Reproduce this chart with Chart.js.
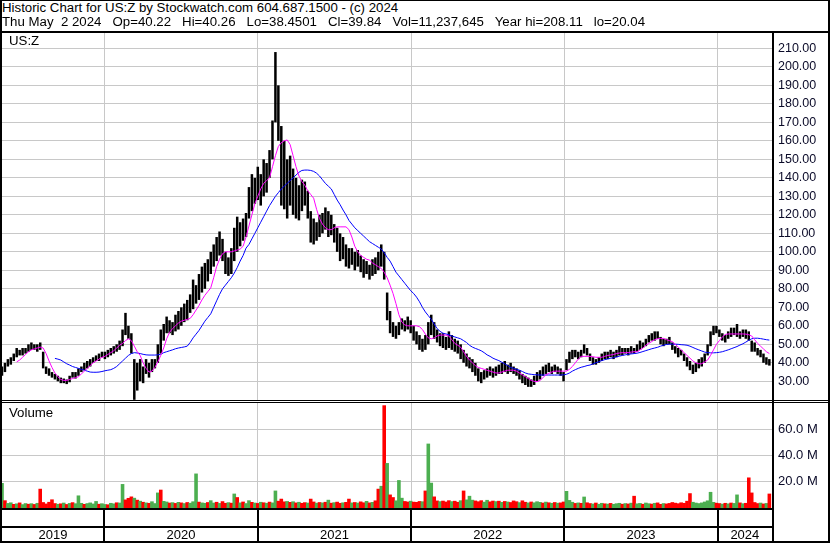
<!DOCTYPE html>
<html>
<head>
<meta charset="utf-8">
<script src="https://cdn.jsdelivr.net/npm/chart.js@4.4.1/dist/chart.umd.min.js"></script>
<style>
  html, body { margin: 0; padding: 0; background: #fff; }
  #wrap { position: relative; width: 830px; height: 543px; overflow: hidden; background: #fff;
          font-family: "Liberation Sans", Arial, sans-serif; color: #000; }
  canvas { position: absolute; left: 0; }
  .txt { position: absolute; white-space: pre; line-height: 14px; z-index: 6; font-size: 13.25px; }
  .ln { position: absolute; background: #000; z-index: 5; }
</style>
</head>
<body>
<div id="wrap">
  <div class="txt" style="left:2px;top:1px">Historic Chart for US:Z by Stockwatch.com 604.687.1500 - (c) 2024</div>
  <div class="txt" style="left:2px;top:15px">Thu May  2 2024   Op=40.22   Hi=40.26   Lo=38.4501   Cl=39.84   Vol=11,237,645   Year hi=208.11   lo=20.04</div>
  <canvas id="priceChart" width="830" height="367" style="top:33px"></canvas>
  <canvas id="volChart" width="830" height="140" style="top:403px"></canvas>
  <div class="txt" style="left:9px;top:34px">US:Z</div>
  <div class="txt" style="left:9px;top:406px">Volume</div>

  <div class="ln" style="left:0;top:0;width:830px;height:1px"></div>
  <div class="ln" style="left:0;top:0;width:2px;height:543px"></div>
  <div class="ln" style="left:828px;top:0;width:2px;height:543px"></div>
  <div class="ln" style="left:0;top:541px;width:830px;height:2px"></div>
  <div class="ln" style="left:0;top:31px;width:830px;height:2px"></div>
  <div class="ln" style="left:772px;top:31px;width:2px;height:512px"></div>
  <div class="ln" style="left:0;top:400px;width:830px;height:1px"></div>
  <div class="ln" style="left:0;top:402px;width:830px;height:1px"></div>
  <div class="ln" style="left:0;top:508px;width:772px;height:2px"></div>
  <div class="ln" style="left:0;top:526px;width:772px;height:2px"></div>
</div>

<script>
// weekly samples, first week of the chart
const firstWeek = '2019-05-03';
const yearLabels = ['2019', '2020', '2021', '2022', '2023', '2024'];
const priceTicks = [30, 40, 50, 60, 70, 80, 90, 100, 110, 120, 130, 140, 150, 160, 170, 180, 190, 200, 210];
const volTicks = [20, 40, 60];

// weekly low / high (USD)
const lows = [
  33, 35, 38, 39, 41, 43, 44, 44, 45, 46,
  47, 47, 46, 47, 37, 34, 33, 32, 31, 30,
  29, 29, 28.5, 29.5, 32, 31.5, 33, 35, 36, 37,
  38, 40, 41, 41, 43, 42, 43, 44, 45, 46,
  47, 49, 55, 53, 45, 20, 25, 30, 29, 34,
  32, 35, 37, 40, 45, 52, 56, 56, 55, 57,
  58, 60, 62, 63, 67, 69, 72, 74, 78, 80,
  84, 88, 92, 95, 98, 95, 88, 87, 88, 95,
  100, 103, 106, 108, 118, 122, 126, 128, 125, 130,
  132, 140, 150, 170, 160, 125, 123, 118, 125, 120,
  118, 117, 122, 125, 118, 105, 104, 106, 108, 110,
  112, 108, 109, 105, 100, 95, 96, 92, 91, 93,
  90, 92, 89, 86, 88, 85, 87, 88, 90, 92,
  85, 63, 56, 54, 53, 55, 58, 57, 58, 56,
  52, 50, 47, 46, 47, 50, 55, 53, 51, 49,
  48, 47, 48, 47, 46, 45, 42, 40, 38, 37,
  35, 33, 30, 29, 31, 32, 33, 32, 33, 34,
  34, 35, 34, 35, 34, 33, 31, 29, 28, 27,
  27, 28, 30, 31, 33, 34, 35, 34, 35, 34,
  33, 30, 36, 40, 42, 43, 42, 43, 45, 44,
  41, 39, 39, 40, 41, 42, 42, 43, 42, 43,
  44, 44, 45, 44, 45, 45, 46, 47, 48, 49,
  51, 52, 52, 53, 50, 49, 50, 50, 47, 45,
  43, 44, 41, 38, 36, 34, 35, 37, 38, 40,
  44, 49, 55, 56, 54, 52, 51, 53, 54, 55,
  54, 53, 54, 53, 52, 46, 46, 44, 43, 40,
  39, 38.5
];
const highs = [
  38, 40, 42, 43, 45, 48, 47, 48, 48, 50,
  51, 50, 50, 51, 46, 38, 37, 35, 34, 33,
  32, 31.5, 31, 33, 35, 35, 37, 38, 40, 41,
  42, 43, 44, 45, 46, 46, 47, 48, 49, 50,
  52, 58, 67, 60, 56, 42, 40, 42, 38, 42,
  40, 42, 42, 50, 58, 61, 65, 63, 62, 66,
  68, 70, 72, 74, 77, 85, 82, 88, 92, 94,
  96, 100, 104, 108, 111, 107, 100, 97, 102, 113,
  119, 116, 118, 121, 135, 142, 140, 146, 142, 150,
  148, 155, 171, 208, 190, 168, 160, 150, 152, 145,
  140, 136, 139, 138, 133, 122, 118, 116, 120, 121,
  124, 122, 120, 115, 113, 110, 108, 104, 102, 102,
  100, 101, 98, 96, 95, 93, 96, 97, 100, 104,
  100, 78, 68, 62, 60, 62, 64, 63, 65, 63,
  60, 57, 55, 53, 55, 62, 66, 62, 58, 56,
  56, 54, 57, 55, 53, 52, 50, 47, 45, 43,
  42, 40, 37, 35, 36, 37, 38, 37, 38, 39,
  40, 41, 39, 40, 38, 37, 36, 34, 33, 32,
  31, 33, 35, 36, 38, 39, 40, 38, 39, 38,
  37, 35, 42, 46, 47, 47, 46, 47, 50, 48,
  45, 43, 42, 43, 45, 46, 46, 47, 46, 47,
  49, 48, 48, 48, 49, 48, 50, 52, 51, 53,
  55, 56, 57, 57, 54, 53, 53, 54, 51, 49,
  48, 47, 45, 43, 41, 39, 40, 42, 43, 45,
  50, 57, 60, 60, 58, 56, 55, 57, 59, 59,
  61, 57, 58, 58, 57, 52, 51, 48, 47, 45,
  43, 42
];

// short moving average (magenta)
const maFast = [
  null, null, null, null, null, 40.5, 41.5, 43, 44.5, 46,
  47, 47.5, 48, 48.5, 48, 45, 41, 37.5, 34.5, 32.5,
  31, 30.5, 30.5, 31, 31.5, 32, 32.5, 34, 35.5, 37,
  38.5, 40, 41, 42, 43, 43.5, 44.5, 45.5, 46.5, 48,
  49.5, 50.5, 52, 53, 52, 49, 46, 44, 40, 37,
  35, 35.5, 37.5, 40.5, 44, 48, 53, 56.5, 58.5, 60,
  61.5, 62.5, 63, 63.5, 64, 66, 68.5, 71, 74, 76.5,
  78.5, 80.5, 86, 92, 96, 99, 100, 100, 100, 100.5,
  101, 101.5, 103, 108, 114, 120, 126, 130, 134, 137,
  138.5, 140, 146, 152, 157, 159, 160, 160.5, 158, 152,
  146, 141, 138, 136, 133, 131, 129, 123, 118, 115,
  113, 112, 112, 113, 113.5, 113.5, 113.5, 113.5, 112, 108,
  103, 100, 98, 97, 96, 95.5, 94, 93, 92, 91,
  89, 86, 82, 77.5, 72, 66, 62, 60.5, 60, 60,
  60, 60, 59.5, 58, 55.5, 53.5, 53, 53.5, 54.5, 55,
  55, 55, 54.5, 52.5, 50.5, 49.5, 48.5, 46, 43.5, 41.5,
  40, 38.5, 37.5, 37, 36.5, 36, 35.5, 35, 34.5, 34.5,
  35, 35.5, 36, 36, 36, 35.5, 34.5, 33.5, 32.5, 31.5,
  30.5, 30, 29.8, 30.5, 32, 33.5, 34.3, 35, 35.5, 35.5,
  35.5, 35.5, 35.5, 36.5, 38, 40, 42, 43.5, 43.5, 43.5,
  43.5, 43.3, 43, 43, 43, 43.5, 44, 44.2, 44.5, 45,
  45.3, 45.5, 45.5, 45.5, 45.8, 46, 46, 47, 48, 49.5,
  50.5, 51.5, 52.5, 53, 53.2, 53.2, 52.5, 52, 51.4, 50,
  48.5, 47, 45.5, 44, 42.5, 41, 40, 39.5, 39.5, 40.5,
  41.5, 44, 47, 50, 52, 54, 55.3, 55.6, 55.6, 55.6,
  55.6, 55.6, 55.6, 55.5, 55.2, 54.5, 52.5, 50.5, 49, 47.5,
  46, 45
];

// long moving average (blue)
const maSlow = [
  null, null, null, null, null, null, null, null, null, null,
  null, null, null, null, null, null, null, null, 42.4, 42,
  41.5, 40.5, 39.5, 38.8, 38, 37.5, 37, 36.5, 36, 35.5,
  35, 34.9, 34.9, 35, 35.3, 35.7, 36, 36.3, 37, 38,
  39.5, 41, 42.5, 44, 45, 45.5, 45.3, 45, 44.6, 44.3,
  44.2, 44.2, 44.2, 44.3, 44.6, 45.5, 46, 46.5, 47, 47.6,
  48, 48.3, 48.6, 49, 51, 53.5, 55.5, 57.5, 60, 62.5,
  64.5, 66.5, 70, 73.5, 77, 80, 82, 84, 86, 88.5,
  91.5, 95, 98, 102, 104, 107, 110, 113, 116, 119,
  122, 125, 127.5, 130, 132, 134, 135.5, 137, 138.5, 140,
  141.5, 143, 144, 144.2, 144.2, 144, 143.5, 142.5, 141, 139,
  137, 135.5, 134, 131, 128, 125.5, 122.6, 120, 117, 115,
  113, 111.5, 110, 108.5, 107, 105.5, 104.5, 103.5, 102.5, 101.5,
  99.5, 97, 95, 92, 89, 87, 85, 83, 81, 79,
  77.5, 75.5, 73, 70, 67.5, 65.5, 63.5, 61, 58.5, 57,
  56, 55.6, 55.2, 54.5, 54, 53.5, 53, 52, 51, 49.5,
  48.5, 47.8, 47.2, 46.5, 45.5, 44.3, 43.5, 42.5, 41.8, 41.2,
  40.3, 39.5, 38.5, 37.5, 37, 36.5, 36, 35.3, 34.5, 34,
  33.8, 33.6, 33.5, 33.4, 33.4, 33.4, 33.4, 33.4, 33.4, 33.4,
  33.4, 33.5, 33.8, 34.5, 35.5, 36.3, 37, 37.6, 38, 38.5,
  38.8, 39.4, 40, 40.6, 41.2, 41.7, 42.1, 42.4, 42.8, 43.2,
  43.6, 44, 44.3, 44.6, 44.8, 45, 45.2, 45.6, 46.1, 46.6,
  47.1, 47.6, 48, 48.4, 49, 49.5, 49.9, 50.1, 50.1, 50.1,
  50, 49.8, 49.7, 49.5, 49, 48.3, 47.6, 47, 46.4, 45.8,
  45.5, 45.4, 45.4, 45.5, 45.7, 46, 46.5, 47, 47.6, 48.2,
  48.8, 49.6, 50.3, 51.2, 52.2, 53, 53.3, 53.3, 53.1, 52.8,
  52.5, 52.3
];

// weekly volume (millions of shares) and bar colour: g = up, r = down
const volumes = [
  18.8, 5.6, 3.5, 4, 2.8, 3.2, 3.9, 2.6, 3.4, 2.9,
  3.3, 2.7, 3.6, 14.4, 4.2, 3.1, 4.4, 6.3, 3.4, 2.9,
  3.2, 3.8, 2.7, 3.5, 4.1, 3.3, 9.3, 3.6, 2.8, 3.4,
  3.9, 3.1, 5.0, 2.9, 3.3, 2.7, 2.5, 3.6, 3.2, 4.0,
  3.8, 18.0, 6.2, 7.4, 8.5, 7.5, 6.0, 5.2, 4.4, 3.9,
  3.6, 4.8, 3.4, 11.5, 13.7, 5.1, 4.6, 3.8, 4.1, 3.5,
  4.3, 3.9, 3.4, 4.2, 3.7, 4.8, 26.0, 4.5, 3.9, 3.6,
  4.2, 5.6, 3.8, 4.4, 3.5, 4.9, 3.6, 4.1, 3.7, 10.7,
  8.0, 3.9, 4.6, 3.4, 5.6, 4.3, 3.8, 3.5, 4.4, 4.0,
  3.6, 4.5, 3.9, 13.0, 5.2, 6.8, 4.7, 5.0, 4.3, 4.8,
  3.9, 4.4, 3.6, 4.1, 3.8, 6.8, 4.6, 3.7, 4.2, 3.9,
  4.4, 6.0, 3.7, 4.1, 4.5, 3.6, 4.0, 4.3, 6.8, 3.9,
  4.2, 3.8, 4.7, 4.0, 5.1, 3.9, 4.3, 5.5, 14.4, 16.6,
  78.0, 34.0, 10.0, 8.0, 5.5, 21.0, 7.5, 5.0, 4.6, 5.2,
  4.5, 4.3, 5.0, 4.8, 13.0, 48.8, 19.0, 8.5, 5.4, 4.9,
  5.3, 4.6, 5.6, 4.9, 5.2, 4.4, 5.6, 13.0, 6.2, 9.0,
  6.0, 5.4, 4.8, 5.6, 4.5, 5.9, 4.7, 5.3, 4.9, 5.2,
  4.3, 5.0, 4.6, 4.2, 5.4, 4.8, 4.1, 5.5, 4.4, 3.9,
  4.6, 4.0, 4.8, 4.3, 3.8, 4.5, 4.0, 3.6, 4.2, 3.7,
  3.9, 4.6, 12.7, 5.8, 4.4, 3.5, 3.9, 3.6, 8.4, 4.0,
  3.4, 3.1, 3.8, 2.9, 3.6, 3.2, 3.0, 3.5, 2.8, 3.3,
  3.6, 2.9, 3.4, 3.1, 3.7, 9.0, 3.2, 3.5, 2.9, 3.8,
  3.3, 3.0, 3.6, 3.9, 2.8, 3.4, 3.1, 3.5, 4.2, 3.7,
  3.3, 4.0, 3.6, 5.2, 11.0, 4.4, 3.8, 3.4, 3.9, 4.6,
  5.5, 12.0, 4.3, 3.7, 3.4, 3.0, 3.6, 3.2, 3.8, 3.5,
  10.0, 3.9, 3.3, 3.6, 23.0, 11.5, 4.2, 3.4, 3.8, 3.1,
  3.5, 10.7
];
const volDir =
  'grggrgrggr' + 'grgrrrrrrg' + 'rgrgrgggrg' + 'gggrggrggr' + 'ggrrrgrgrg' +
  'rgggrggrgr' + 'grgrgggrgg' + 'rggrgrrgrg' + 'rgrggrgrgr' + 'grggrrrgrg' +
  'rgrrgrrgrg' + 'rgrgrrgrrg' + 'rgrrgrgrrg' + 'rgrrgggrrg' + 'rrrgrggrrg' +
  'rrrgrrgrgg' + 'grrrggrrgr' + 'grgrrrgrrg' + 'rgggrgrgrg' + 'rrgggrgrgr' +
  'rgrggrgrgg' + 'grgrgrggrg' + 'grgrrgrrrr' + 'rrrrrggggg' + 'gggrrgrgrg' +
  'grgrrrrrgr' + 'gr';

const GRID = '#c8c8c8';
const TXT = '#0a0a28';
const FAMILY = '"Liberation Sans", Arial, sans-serif';
const X_MAX = 261.9;

// year boundaries in week units, from the calendar
const WEEK = 7 * 24 * 3600 * 1000;
const t0 = Date.parse(firstWeek + 'T00:00:00Z');
const yearStarts = yearLabels.map(y => (Date.parse(y + '-01-01T00:00:00Z') - t0) / WEEK);

Chart.defaults.font.family = FAMILY;
Chart.defaults.font.size = 12;

const toPoints = arr => arr.map((v, i) => ({ x: i, y: v })).filter(p => p.y !== null);

function xAxis(height) {
  return {
    type: 'linear', min: 0, max: X_MAX, offset: false,
    ticks: { display: false },
    grid: { color: GRID, drawTicks: false, offset: false },
    border: { display: false },
    afterBuildTicks: s => { s.ticks = yearStarts.filter(v => v > 0).map(v => ({ value: v })); },
    afterFit: s => { s.height = height; s.paddingLeft = 0; s.paddingRight = 0; }
  };
}

// year labels and dividers under the volume panel
const yearBand = {
  id: 'yearBand',
  afterDraw(chart) {
    const ctx = chart.ctx, xs = chart.scales.x, area = chart.chartArea;
    ctx.save();
    ctx.fillStyle = '#000';
    yearStarts.forEach(v => {
      if (v <= 0) return;
      const px = Math.round(xs.getPixelForValue(v));
      ctx.fillRect(px - 1, area.bottom, 2, chart.height - area.bottom);
    });
    ctx.font = '13px ' + FAMILY;
    ctx.textAlign = 'center';
    ctx.textBaseline = 'alphabetic';
    yearLabels.forEach((lab, k) => {
      const a = Math.max(0, yearStarts[k]);
      const b = k + 1 < yearStarts.length ? yearStarts[k + 1] : X_MAX;
      const px = (xs.getPixelForValue(a) + xs.getPixelForValue(Math.min(b, X_MAX))) / 2;
      ctx.fillText(lab, px, 136);
    });
    ctx.restore();
  }
};

const priceChart = new Chart(document.getElementById('priceChart'), {
  type: 'bar',
  data: {
    datasets: [
      { type: 'line', data: toPoints(maFast), borderColor: '#ff00ff', borderWidth: 1, pointRadius: 0, order: 1 },
      { type: 'line', data: toPoints(maSlow), borderColor: '#0000ff', borderWidth: 1, pointRadius: 0, order: 2 },
      {
        type: 'bar',
        data: lows.map((lo, i) => ({ x: i, y: [lo, highs[i]] })),
        backgroundColor: '#000', borderWidth: 0,
        barPercentage: 0.85, categoryPercentage: 1, order: 3
      }
    ]
  },
  options: {
    responsive: false, animation: false, devicePixelRatio: 1,
    layout: { padding: { left: 2, right: 0, top: 0, bottom: 0 } },
    plugins: { legend: { display: false }, tooltip: { enabled: false } },
    scales: {
      x: xAxis(0),
      y: {
        type: 'linear', position: 'right', min: 19.9, max: 218.3,
        afterBuildTicks: s => { s.ticks = priceTicks.map(v => ({ value: v })); },
        ticks: { color: TXT, font: { family: FAMILY, size: 12.5 }, padding: 6, callback: v => v.toFixed(2) },
        grid: { color: GRID, drawTicks: false },
        border: { display: false },
        afterFit: s => { s.width = 58; s.paddingTop = 0; s.paddingBottom = 0; }
      }
    }
  }
});

const volChart = new Chart(document.getElementById('volChart'), {
  type: 'bar',
  data: {
    datasets: [{
      data: volumes.map((v, i) => ({ x: i, y: v })),
      backgroundColor: volumes.map((v, i) => volDir[i] === 'g' ? '#4caf50' : '#ff0000'),
      borderWidth: 0, barPercentage: 1, categoryPercentage: 1
    }]
  },
  options: {
    responsive: false, animation: false, devicePixelRatio: 1,
    layout: { padding: { left: 2, right: 0, top: 0, bottom: 0 } },
    plugins: { legend: { display: false }, tooltip: { enabled: false } },
    scales: {
      x: xAxis(35),
      y: {
        type: 'linear', position: 'right', min: 0, max: 80,
        afterBuildTicks: s => { s.ticks = volTicks.map(v => ({ value: v })); },
        ticks: { color: TXT, font: { family: FAMILY, size: 13 }, padding: 6, callback: v => v.toFixed(1) + ' M' },
        grid: { color: GRID, drawTicks: false },
        border: { display: false },
        afterFit: s => { s.width = 58; s.paddingTop = 0; s.paddingBottom = 0; }
      }
    }
  },
  plugins: [yearBand]
});
</script>
</body>
</html>
